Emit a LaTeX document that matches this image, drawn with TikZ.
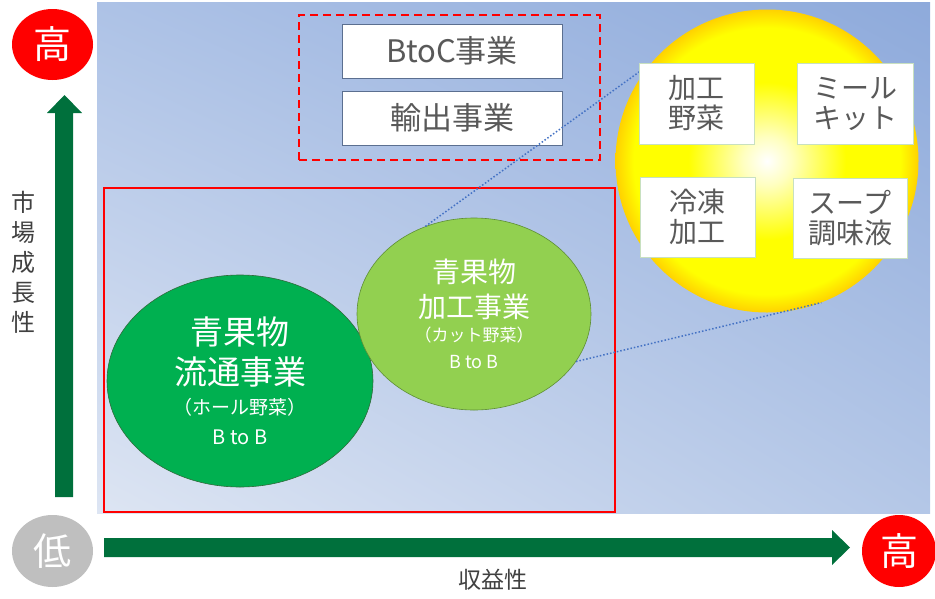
\documentclass[tikz,border=0pt]{standalone}
\usepackage{fontspec}
\setmainfont{Noto Sans CJK JP}
\usetikzlibrary{shapes.geometric,shadings}
\definecolor{axgreen}{HTML}{00703C}
\definecolor{pUL}{HTML}{ADC2E6}
\definecolor{pUR}{HTML}{8EAADB}
\definecolor{pLL}{HTML}{DDE5F3}
\definecolor{pLR}{HTML}{B4C7E7}
\definecolor{darkgreen}{HTML}{00B050}
\definecolor{lightgreen}{HTML}{92D050}
\definecolor{dgline}{HTML}{2F6B3A}
\definecolor{lgline}{HTML}{5E8F35}
\definecolor{boxtext}{HTML}{595959}
\definecolor{axtext}{HTML}{404040}
\definecolor{boxline}{HTML}{5B6F90}
\definecolor{ybline}{HTML}{C8E0C0}
\definecolor{dotblue}{HTML}{4472C4}
\definecolor{lowgray}{HTML}{BFBFBF}
\definecolor{sunA}{HTML}{FFFFC0}
\definecolor{sunY}{HTML}{FFFF00}
\definecolor{sunE}{HTML}{FFD200}
\pgfdeclareradialshading{sun}{\pgfpoint{0bp}{0bp}}{color(0bp)=(white); color(4bp)=(sunA); color(13bp)=(sunY); color(22bp)=(sunY); color(25bp)=(sunE); color(50bp)=(sunE)}
\tikzset{
  fs/.style={font=\fontsize{#1}{#1}\selectfont},
  level/.style={ellipse, inner sep=0pt, text=white, fs=38},
  bizbox/.style={draw=boxline, line width=0.8pt, fill=white, rectangle, inner sep=0pt, minimum width=220pt, minimum height=54pt, text=boxtext, fs=31},
  prodbox/.style={draw=ybline, line width=0.6pt, fill=white, rectangle, inner sep=0pt, align=center, text=boxtext, font=\fontsize{28}{30}\selectfont},
  wtext/.style={text=white, inner sep=0pt},
  zoomline/.style={dotblue, dotted, line width=1.5pt},
}
\begin{document}
\begin{tikzpicture}[x=1pt,y=-1pt]
\useasboundingbox (0,0) rectangle (935,598);
% background panel
\shade[upper left=pUL, upper right=pUR, lower left=pLL, lower right=pLR] (97,2) rectangle (930,513);
% red solid box
\node[draw=red, line width=2.5pt, rectangle, inner sep=0pt, minimum width=511pt, minimum height=324pt] (current) at (359.5,350) {};
% dashed box
\node[draw=red, line width=2.5pt, dash pattern=on 8pt off 5pt, rectangle, inner sep=0pt, minimum width=301pt, minimum height=145pt] (future) at (449.5,87.5) {};
\node[bizbox] (btoc) at (452,51) {BtoC事業};
\node[bizbox] (export) at (452,118) {輸出事業};
% sun
\node[circle, inner sep=0pt, minimum size=303pt, shading=sun] (sun) at (767,161) {};
% ellipses
\node[ellipse, draw=dgline, line width=0.6pt, fill=darkgreen, inner sep=0pt, minimum width=266pt, minimum height=212pt] (dist) at (240,381) {};
\node[ellipse, draw=lgline, line width=0.6pt, fill=lightgreen, inner sep=0pt, minimum width=234pt, minimum height=192pt] (proc) at (474,314) {};
% zoom lines
\draw[zoomline] (proc.119) -- (sun.140);
\draw[zoomline] (proc.-25) -- (sun.-69);
% ellipse texts
\node[wtext, fs=33] (d1) at (240,332) {青果物};
\node[wtext, fs=33] (d2) at (240,372) {流通事業};
\node[wtext, fs=19] (d3) at (240,407) {（ホール野菜）};
\node[wtext, fs=20] (d4) at (240,437) {B to B};
\node[wtext, fs=28] (p1) at (474,272) {青果物};
\node[wtext, fs=28] (p2) at (474,307) {加工事業};
\node[wtext, fs=17] (p3) at (474,335) {（カット野菜）};
\node[wtext, fs=18] (p4) at (474,362) {B to B};
% product boxes
\node[prodbox, minimum width=115pt, minimum height=81pt] (kakou) at (696.5,103.5) {加工\\野菜};
\node[prodbox, minimum width=116pt, minimum height=81pt] (meal) at (855,103.5) {ミール\\キット};
\node[prodbox, minimum width=115pt, minimum height=80pt] (frozen) at (697.5,217) {冷凍\\加工};
\node[prodbox, minimum width=114pt, minimum height=80pt] (soup) at (850,218) {スープ\\調味液};
% axes
\fill[axgreen] (55,497) -- (55,113) -- (47,113) -- (64.5,95) -- (82,113) -- (73,113) -- (73,497) -- cycle;
\fill[axgreen] (104,538) -- (832,538) -- (832,530) -- (850,547.5) -- (832,565) -- (832,557) -- (104,557) -- cycle;
\node[level, fill=red, minimum width=81pt, minimum height=71pt] (hiY) at (52.5,44.5) {高};
\node[level, fill=lowgray, minimum width=81pt, minimum height=72pt] (low) at (52.5,551) {低};
\node[level, fill=red, minimum width=74pt, minimum height=72pt] (hiX) at (899,551) {高};
\node[align=center, text=axtext, inner sep=0pt, font=\fontsize{24}{30}\selectfont] (ylab) at (23,262) {市\\場\\成\\長\\性};
\node[text=axtext, inner sep=0pt, fs=23] (xlab) at (493,580) {収益性};
\end{tikzpicture}
\end{document}
